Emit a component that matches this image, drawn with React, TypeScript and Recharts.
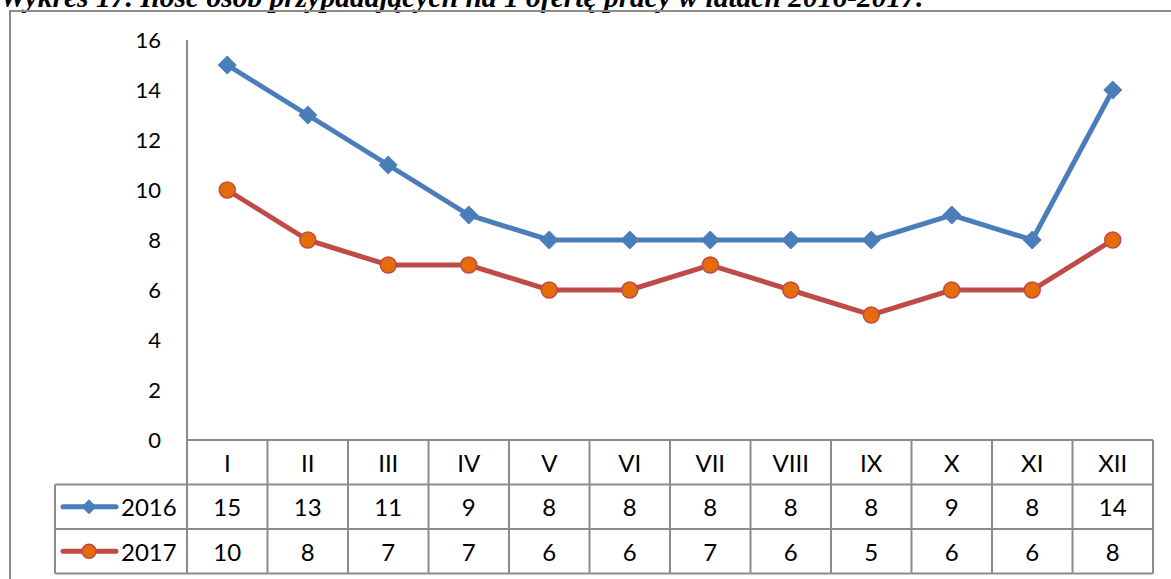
import React from "react";
import { LineChart, Line, XAxis, YAxis } from "recharts";

const months = ["I", "II", "III", "IV", "V", "VI", "VII", "VIII", "IX", "X", "XI", "XII"];
const values2016 = [15, 13, 11, 9, 8, 8, 8, 8, 8, 9, 8, 14];
const values2017 = [10, 8, 7, 7, 6, 6, 7, 6, 5, 6, 6, 8];
const yTicks = [0, 2, 4, 6, 8, 10, 12, 14, 16];
const seriesNames = ["2016", "2017"];
const title = "Wykres 17. Ilość osób przypadających na 1 ofertę pracy w latach 2016-2017.";

const data = months.map((m, i) => ({ m, a: values2016[i], b: values2017[i] }));

const BLUE = "#4A7EBB";
const RED = "#BE4B48";
const ORANGE = "#E46C0A";
const GRID = "#8C8C8C";
const FONT = "Lato, 'Open Sans', sans-serif";
const TABLE_FS = 24;

const PLOT_LEFT = 187;
const PLOT_RIGHT = 1153;
const COL_W = (PLOT_RIGHT - PLOT_LEFT) / months.length;
const ROW_H = 44.5;
const LEG_LEFT = 55;

const Diamond = ({ cx, cy, r = 9 }: any) => (
  <polygon
    points={`${cx},${cy - r} ${cx + r},${cy} ${cx},${cy + r} ${cx - r},${cy}`}
    fill={BLUE}
    stroke={BLUE}
    strokeWidth={1}
  />
);
const Circle = ({ cx, cy, r = 8 }: any) => (
  <circle cx={cx} cy={cy} r={r} fill={ORANGE} stroke={RED} strokeWidth={1.5} />
);

const TableTick = (props: any) => {
  const { x, y, payload } = props;
  const i = payload.index;
  const l = x - COL_W / 2;
  const r = x + COL_W / 2;
  const rowsY = [y, y + ROW_H, y + 2 * ROW_H, y + 3 * ROW_H];
  const textProps = {
    textAnchor: "middle" as const,
    dominantBaseline: "central" as const,
    fontSize: TABLE_FS,
    fontFamily: FONT,
    fill: "#000",
  };
  return (
    <g>
      <line x1={r} y1={y} x2={r} y2={rowsY[3]} stroke={GRID} strokeWidth={2} />
      {i === 0 && <line x1={l} y1={y} x2={l} y2={rowsY[3]} stroke={GRID} strokeWidth={2} />}
      {[1, 2, 3].map((k) => (
        <line key={k} x1={l} y1={rowsY[k]} x2={r} y2={rowsY[k]} stroke={GRID} strokeWidth={2} />
      ))}
      <text x={x} y={y + ROW_H / 2} {...textProps}>{months[i]}</text>
      <text x={x} y={y + ROW_H * 1.5} {...textProps}>{values2016[i]}</text>
      <text x={x} y={y + ROW_H * 2.5} {...textProps}>{values2017[i]}</text>
      {i === 0 && (
        <g>
          <line x1={LEG_LEFT} y1={rowsY[1]} x2={LEG_LEFT} y2={rowsY[3]} stroke={GRID} strokeWidth={2} />
          {[1, 2, 3].map((k) => (
            <line key={k} x1={LEG_LEFT} y1={rowsY[k]} x2={l} y2={rowsY[k]} stroke={GRID} strokeWidth={2} />
          ))}
          <line x1={63} y1={y + ROW_H * 1.5} x2={116} y2={y + ROW_H * 1.5} stroke={BLUE} strokeWidth={5} strokeLinecap="round" />
          <Diamond cx={89} cy={y + ROW_H * 1.5} r={7} />
          <text x={121} y={y + ROW_H * 1.5} fontSize={TABLE_FS} fontFamily={FONT} dominantBaseline="central">{seriesNames[0]}</text>
          <line x1={63} y1={y + ROW_H * 2.5} x2={116} y2={y + ROW_H * 2.5} stroke={RED} strokeWidth={5} strokeLinecap="round" />
          <Circle cx={89} cy={y + ROW_H * 2.5} r={7} />
          <text x={121} y={y + ROW_H * 2.5} fontSize={TABLE_FS} fontFamily={FONT} dominantBaseline="central">{seriesNames[1]}</text>
        </g>
      )}
    </g>
  );
};

export default function App() {
  return (
    <div style={{ position: "absolute", left: 0, top: 0, width: 1171, height: 579, overflow: "hidden", background: "#fff" }}>
      <div
        style={{
          position: "absolute",
          left: 0,
          top: -17,
          fontFamily: "'Liberation Serif', 'Times New Roman', serif",
          fontWeight: "bold",
          fontStyle: "italic",
          fontSize: 29.5,
          lineHeight: "29.5px",
          whiteSpace: "nowrap",
        }}
      >
        {title}
      </div>
      <div
        style={{
          position: "absolute",
          left: 9,
          top: 10,
          width: 1300,
          height: 700,
          border: `2px solid ${GRID}`,
          boxSizing: "border-box",
        }}
      />
      <div style={{ position: "absolute", left: 0, top: 0 }}>
        <LineChart
          width={1171}
          height={579}
          data={data}
          margin={{ top: 40, right: 1171 - PLOT_RIGHT, left: PLOT_LEFT - 60, bottom: 0 }}
        >
          <YAxis
            width={60}
            domain={[0, 16]}
            ticks={yTicks}
            interval={0}
            tickLine={false}
            tickSize={0}
            tickMargin={26}
            axisLine={{ stroke: GRID, strokeWidth: 2 }}
            tick={{ fontSize: 22, fontFamily: FONT, fill: "#000" }}
          />
          <XAxis
            dataKey="m"
            height={139}
            interval={0}
            tickLine={false}
            tickSize={0}
            tickMargin={0}
            padding={{ left: COL_W / 2, right: COL_W / 2 }}
            axisLine={{ stroke: GRID, strokeWidth: 2 }}
            tick={<TableTick />}
          />
          <Line
            dataKey="a"
            stroke={BLUE}
            strokeWidth={5}
            isAnimationActive={false}
            dot={(p: any) => <Diamond key={p.index} cx={p.cx} cy={p.cy} />}
            activeDot={false}
          />
          <Line
            dataKey="b"
            stroke={RED}
            strokeWidth={5}
            isAnimationActive={false}
            dot={(p: any) => <Circle key={p.index} cx={p.cx} cy={p.cy} />}
            activeDot={false}
          />
        </LineChart>
      </div>
    </div>
  );
}
